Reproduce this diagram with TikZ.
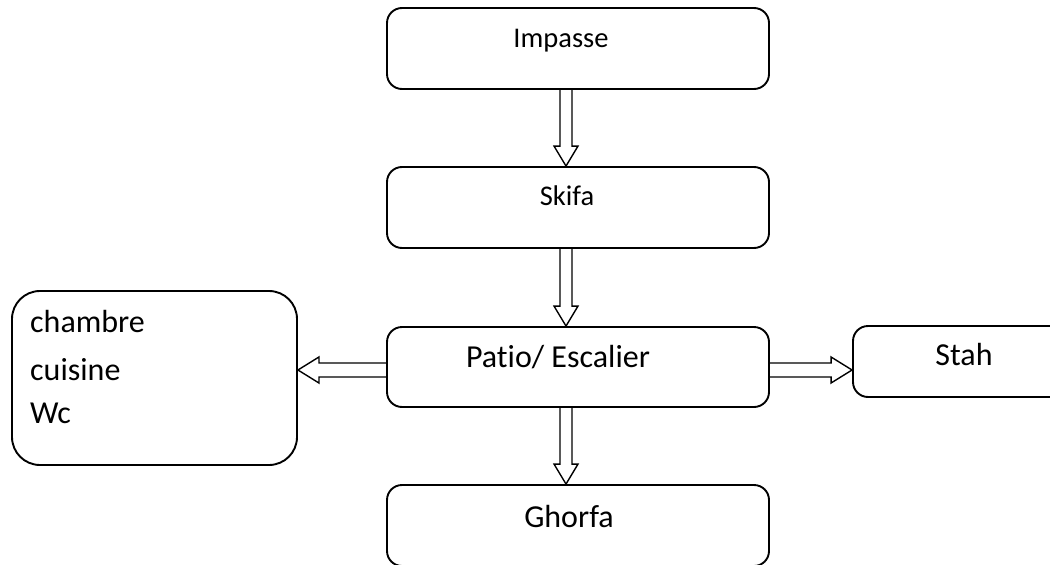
\documentclass[tikz,border=0pt]{standalone}
\usepackage{fontspec}
\setmainfont[Ligatures=NoCommon]{Carlito}
\usetikzlibrary{calc}
\tikzset{
  box/.style={draw, line width=1.9pt, rounded corners=15pt, inner sep=0pt, minimum width=382pt, minimum height=81pt},
  blk/.style={draw, line width=1.4pt, line join=miter},
  txt/.style={inner sep=0pt, anchor=base, font=\fontsize{32pt}{38pt}\selectfont},
  txts/.style={inner sep=0pt, anchor=base, font=\fontsize{28.5pt}{34pt}\selectfont},
}
\newcommand\blkdown[2]{%
  \draw[blk] let \p1=(#1), \p2=(#2) in
    (\x1-6pt,\y1) -- (\x1-6pt,\y2+20pt) -- (\x1-12pt,\y2+20pt) -- (\x1,\y2)
    -- (\x1+12pt,\y2+20pt) -- (\x1+6pt,\y2+20pt) -- (\x1+6pt,\y1);}
\newcommand\blkhor[2]{%
  \draw[blk] let \p1=(#1), \p2=(#2), \n1={sign(\x2-\x1)} in
    (\x1,\y1+7pt) -- (\x2-\n1*21pt,\y1+7pt) -- (\x2-\n1*21pt,\y1+13pt) -- (\x2,\y1)
    -- (\x2-\n1*21pt,\y1-13pt) -- (\x2-\n1*21pt,\y1-7pt) -- (\x1,\y1-7pt);}
\begin{document}
\begin{tikzpicture}[x=1pt,y=-1pt]
\useasboundingbox (0,0) rectangle (1050,565);
\clip (0,0) rectangle (1050,565);
% boxes
\node[box] (imp) at (578,48.5) {};
\node[box] (skf) at (578,207.5) {};
\node[box, minimum height=80pt] (pat) at (578,367) {};
\node[box] (gho) at (578,525.5) {};
\node[box, minimum width=285pt, minimum height=174pt, rounded corners=28pt] (lft) at (154.5,378) {};
\node[box, minimum width=230pt, minimum height=71pt] (sta) at (968,361.5) {};
% texts
\node[txts] (timp) at (561,47) {Impasse};
\node[txts] (tskf) at (567,205) {Skifa};
\node[txt] (tpat) at (558,367) {Patio/ Escalier};
\node[txt] (tgho) at (569,527) {Ghorfa};
\node[txt] (tsta) at (964,365) {Stah};
\node[txt, anchor=base west] (tch) at (30,332) {chambre};
\node[txt, anchor=base west] (tcu) at (30,380) {cuisine};
\node[txt, anchor=base west] (twc) at (30,423) {Wc};
% connector end points
\coordinate (a1) at ($(imp.south)+(-12,0)$);
\coordinate (b1) at ($(skf.north)+(-12,0)$);
\coordinate (a2) at ($(skf.south)+(-12,0)$);
\coordinate (b2) at ($(pat.north)+(-12,0)$);
\coordinate (a3) at ($(pat.south)+(-12,0)$);
\coordinate (b3) at ($(gho.north)+(-12,0)$);
\coordinate (a4) at ($(pat.west)+(0,3)$);
\coordinate (b4) at (lft.east |- a4);
\coordinate (a5) at ($(pat.east)+(0,3)$);
\coordinate (b5) at (sta.west |- a5);
% connectors
\blkdown{a1}{b1}
\blkdown{a2}{b2}
\blkdown{a3}{b3}
\blkhor{a4}{b4}
\blkhor{a5}{b5}
\end{tikzpicture}
\end{document}
